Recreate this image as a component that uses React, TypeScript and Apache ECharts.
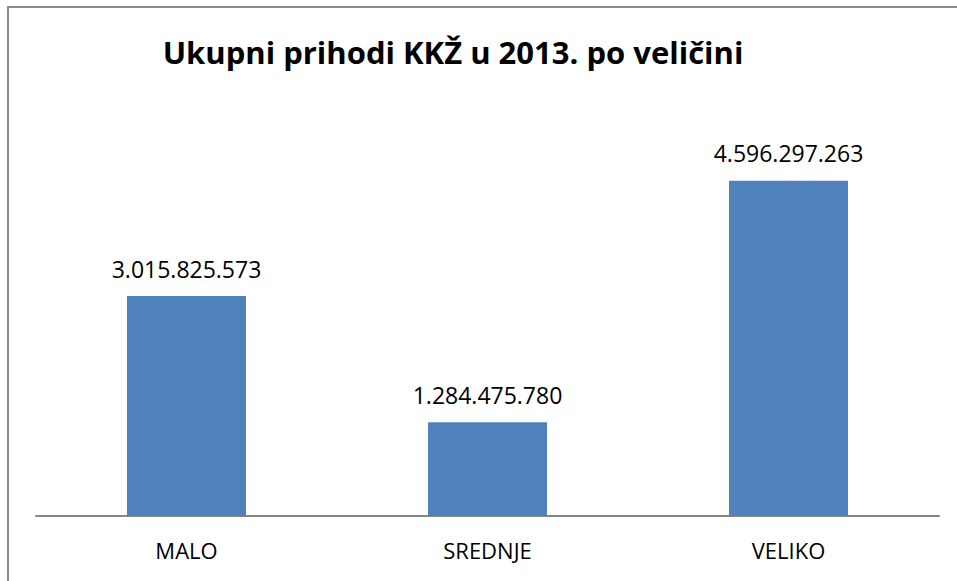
import React, { useEffect, useRef } from "react";
import * as echarts from "echarts";

const categories = ["MALO", "SREDNJE", "VELIKO"];
const values = [3015825573, 1284475780, 4596297263];
const titleText = "Ukupni prihodi KKŽ u 2013. po veličini";

function fmt(v: number): string {
  return String(v).replace(/\B(?=(\d{3})+(?!\d))/g, ".");
}

export default function App() {
  const ref = useRef<HTMLDivElement>(null);
  useEffect(() => {
    if (!ref.current) return;
    const chart = echarts.init(ref.current, null, { renderer: "svg" });
    chart.setOption({
      animation: false,
      backgroundColor: "#ffffff",
      title: {
        text: titleText,
        left: 448,
        textAlign: "center",
        top: 31,
        textStyle: {
          fontFamily: "Open Sans",
          fontWeight: "bold",
          fontSize: 31,
          color: "#000000",
        },
      },
      graphic: [
        {
          type: "rect",
          shape: { x: 8, y: 7, width: 1200, height: 1200 },
          style: { fill: "none", stroke: "#8c8c8c", lineWidth: 2 },
          silent: true,
        },
      ],
      grid: { left: 36, right: 18, top: 151.4, bottom: 581 - 516 },
      xAxis: {
        type: "category",
        data: categories,
        axisLine: { lineStyle: { color: "#868686", width: 2 } },
        axisTick: { show: false },
        axisLabel: {
          fontFamily: "Open Sans",
          fontSize: 22,
          color: "#000000",
          margin: 23,
        },
      },
      yAxis: {
        type: "value",
        min: 0,
        max: 5000000000,
        show: false,
        splitLine: { show: false },
      },
      series: [
        {
          type: "bar",
          data: values,
          barWidth: 119,
          itemStyle: { color: "#4f81bd" },
          label: {
            show: true,
            position: "top",
            distance: 16,
            fontFamily: "Open Sans",
            fontSize: 23,
            color: "#000000",
            formatter: (p: any) => fmt(p.value),
          },
        },
      ],
    });
    return () => chart.dispose();
  }, []);
  return (
    <div
      ref={ref}
      style={{ position: "fixed", left: 0, top: 0, width: 957, height: 581 }}
    />
  );
}
